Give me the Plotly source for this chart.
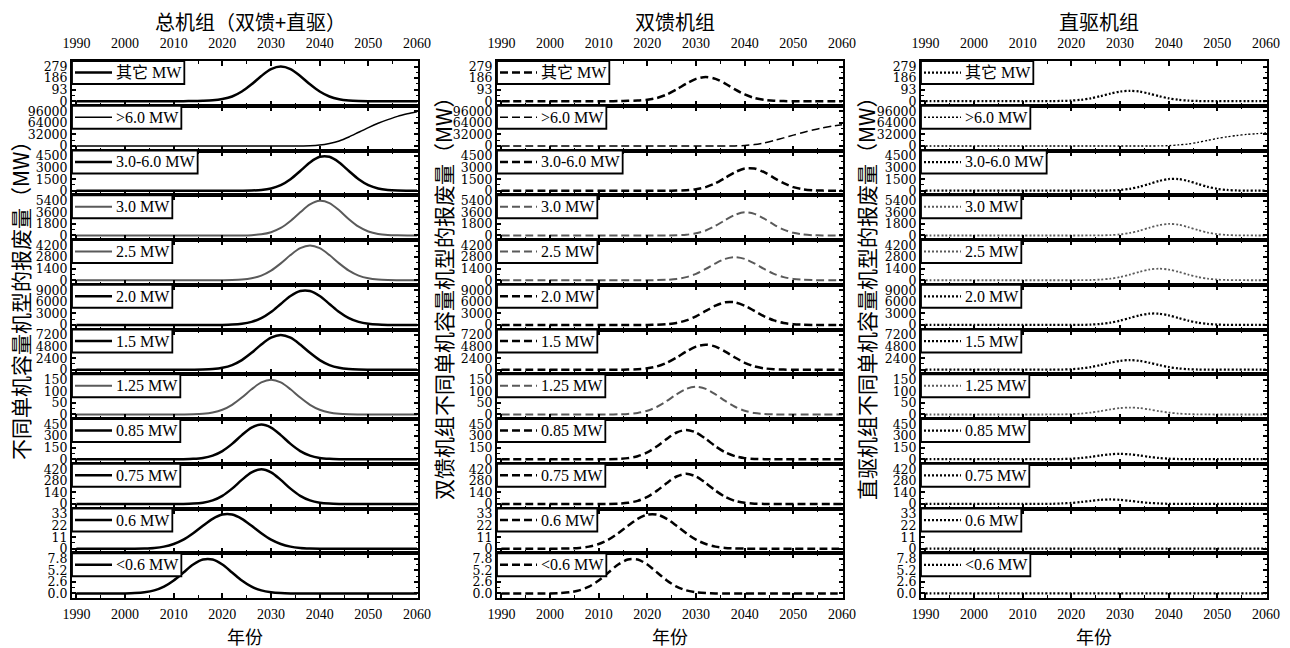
import plotly.graph_objects as go

# ---------------- data ----------------
YEARS = [1990, 1992, 1994, 1996, 1998, 2000, 2002, 2004, 2006, 2008, 2010, 2012,
         2014, 2016, 2018, 2020, 2022, 2024, 2026, 2028, 2030, 2032, 2034, 2036,
         2038, 2040, 2042, 2044, 2046, 2048, 2050, 2052, 2054, 2056, 2058, 2060]

ROW_LABELS = ["其它 MW", ">6.0 MW", "3.0-6.0 MW", "3.0 MW", "2.5 MW", "2.0 MW",
              "1.5 MW", "1.25 MW", "0.85 MW", "0.75 MW", "0.6 MW", "<0.6 MW"]

ROW_TICKVALS = [[0, 93, 186, 279], [0, 32000, 64000, 96000], [0, 1500, 3000, 4500],
                [0, 1800, 3600, 5400], [0, 1400, 2800, 4200], [0, 3000, 6000, 9000],
                [0, 2400, 4800, 7200], [0, 50, 100, 150], [0, 150, 300, 450],
                [0, 140, 280, 420], [0, 11, 22, 33], [0.0, 2.6, 5.2, 7.8]]
ROW_TICKTEXT = [["0", "93", "186", "279"], ["0", "32000", "64000", "96000"],
                ["0", "1500", "3000", "4500"], ["0", "1800", "3600", "5400"],
                ["0", "1400", "2800", "4200"], ["0", "3000", "6000", "9000"],
                ["0", "2400", "4800", "7200"], ["0", "50", "100", "150"],
                ["0", "150", "300", "450"], ["0", "140", "280", "420"],
                ["0", "11", "22", "33"], ["0.0", "2.6", "5.2", "7.8"]]

# --- 总机组 (total) ---
TOTAL_OTHER = [0, 0, 0, 0, 0, 0, 0, 0, 0, 0, 0, 0.5, 2, 4, 8, 18, 38, 78, 136, 203, 258, 279,
               258, 203, 136, 78, 38, 16, 6, 2, 0.5, 0, 0, 0, 0, 0]
TOTAL_GT6 = [0, 0, 0, 0, 0, 0, 0, 0, 0, 0, 0, 0, 0, 0, 0, 0, 0, 0, 0, 0, 0, 0, 0, 0,
             500, 2500, 7000, 14000, 25000, 38000, 51000, 63000, 73000, 82000, 89000, 95000]
TOTAL_3TO6 = [0, 0, 0, 0, 0, 0, 0, 0, 0, 0, 0, 0, 0, 0, 0, 0, 0,
              6, 27, 98, 291, 720, 1485, 2556, 3672, 4401, 4401, 3672, 2556, 1485, 720, 291, 98, 27, 6, 1]
TOTAL_3P0 = [0, 0, 0, 0, 0, 0, 0, 0, 0, 0, 0, 0, 0, 0, 0, 0,
             4, 14, 56, 185, 510, 1170, 2250, 3600, 4830, 5400, 5050, 3920, 2540, 1370, 620, 232, 72, 19, 5, 1]
TOTAL_2P5 = [0, 0, 0, 0, 0, 0, 0, 0, 0, 0, 0, 0, 0, 0,
             1, 6, 25, 83, 236, 567, 1168, 2045, 3049, 3877, 4200, 3877, 3049, 2045, 1168, 567, 236, 83, 25, 6, 1, 0]
TOTAL_2P0 = [0, 0, 0, 0, 0, 0, 0, 0, 0, 0, 0, 0, 0, 0,
             6, 28, 100, 306, 800, 1782, 3375, 5463, 7515, 8820, 8820, 7515, 5463, 3375, 1782, 800, 306, 100, 28, 6, 1, 0]
TOTAL_1P5 = [0, 0, 0, 0, 0, 0, 0, 0, 0, 0, 0,
             2, 11, 43, 143, 404, 972, 2002, 3506, 5227, 6646, 7200, 6646, 5227, 3506, 2002, 972, 404, 143, 43, 11, 2,
             0, 0, 0, 0]
TOTAL_1P25 = [0, 0, 0, 0, 0, 0, 0, 0, 0, 0, 0,
              0.2, 0.9, 3.0, 8.4, 20.3, 41.7, 73.1, 108.9, 138.5, 150, 138.5, 108.9, 73.1, 41.7, 20.3, 8.4, 3.0, 0.9, 0.2,
              0, 0, 0, 0, 0, 0]
TOTAL_0P85 = [0, 0, 0, 0, 0, 0, 0, 0, 0, 0,
              0.3, 1.4, 5.3, 17, 47, 106, 199, 313, 411, 450, 411, 313, 199, 106, 47, 17, 5.3, 1.4, 0.3,
              0, 0, 0, 0, 0, 0, 0]
TOTAL_0P75 = [0, 0, 0, 0, 0, 0, 0, 0, 0, 0,
              0.3, 1.3, 5, 16, 44, 99, 186, 292, 383, 420, 383, 292, 186, 99, 44, 16, 5, 1.3, 0.3,
              0, 0, 0, 0, 0, 0, 0]
TOTAL_0P6 = [0, 0, 0, 0, 0, 0,
             0.1, 0.3, 0.8, 2.0, 4.5, 8.6, 14.7, 21.8, 28.4, 32.5, 32.5, 28.4, 21.8, 14.7, 8.6, 4.5, 2.0, 0.8, 0.3, 0.1,
             0, 0, 0, 0, 0, 0, 0, 0, 0, 0]
TOTAL_LT0P6 = [0, 0, 0, 0, 0,
               0.02, 0.09, 0.27, 0.69, 1.54, 2.93, 4.73, 6.51, 7.64, 7.64, 6.51, 4.73, 2.93, 1.54, 0.69, 0.27, 0.09, 0.02,
               0, 0, 0, 0, 0, 0, 0, 0, 0, 0, 0, 0, 0]

# --- 双馈机组 (DFIG) ---
DFIG_OTHER = [0, 0, 0, 0, 0, 0, 0, 0, 0, 0, 0, 0.3, 1.4, 3, 5.6, 12.6, 26.5, 54.5, 95, 142, 180, 195,
              180, 142, 95, 54.5, 26.5, 11, 4, 1.4, 0.3, 0, 0, 0, 0, 0]
DFIG_GT6 = [0, 0, 0, 0, 0, 0, 0, 0, 0, 0, 0, 0, 0, 0, 0, 0, 0, 0, 0, 0, 0, 0, 0, 0,
            300, 1500, 4000, 8500, 15000, 22500, 30000, 37500, 44000, 50000, 55000, 59000]
DFIG_3TO6 = [0, 0, 0, 0, 0, 0, 0, 0, 0, 0, 0, 0, 0, 0, 0, 0, 0,
             4, 18, 64, 191, 472, 974, 1676, 2407, 2885, 2885, 2407, 1676, 974, 472, 191, 64, 18, 4, 1]
DFIG_3P0 = [0, 0, 0, 0, 0, 0, 0, 0, 0, 0, 0, 0, 0, 0, 0, 0,
            3, 9, 37, 123, 340, 780, 1500, 2400, 3220, 3600, 3367, 2613, 1693, 913, 413, 155, 48, 13, 3, 1]
DFIG_2P5 = [0, 0, 0, 0, 0, 0, 0, 0, 0, 0, 0, 0, 0, 0,
            1, 4, 17, 55, 157, 378, 779, 1363, 2033, 2585, 2800, 2585, 2033, 1363, 779, 378, 157, 55, 17, 4, 1, 0]
DFIG_2P0 = [0, 0, 0, 0, 0, 0, 0, 0, 0, 0, 0, 0, 0, 0,
            4, 19, 67, 204, 533, 1188, 2250, 3642, 5010, 5880, 5880, 5010, 3642, 2250, 1188, 533, 204, 67, 19, 4, 1, 0]
DFIG_1P5 = [0, 0, 0, 0, 0, 0, 0, 0, 0, 0, 0,
            1, 8, 31, 103, 292, 702, 1446, 2532, 3775, 4800, 5200, 4800, 3775, 2532, 1446, 702, 292, 103, 31, 8, 1,
            0, 0, 0, 0]
DFIG_1P25 = [0, 0, 0, 0, 0, 0, 0, 0, 0, 0, 0,
             0.2, 0.7, 2.4, 6.7, 16.2, 33.4, 58.5, 87.1, 110.8, 120, 110.8, 87.1, 58.5, 33.4, 16.2, 6.7, 2.4, 0.7, 0.2,
             0, 0, 0, 0, 0, 0]
DFIG_0P85 = [0, 0, 0, 0, 0, 0, 0, 0, 0, 0,
             0.3, 1.2, 4.5, 14.4, 39.7, 89.5, 168, 264, 347, 380, 347, 264, 168, 89.5, 39.7, 14.4, 4.5, 1.2, 0.3,
             0, 0, 0, 0, 0, 0, 0]
DFIG_0P75 = [0, 0, 0, 0, 0, 0, 0, 0, 0, 0,
             0.3, 1.1, 4.3, 14, 38, 86, 162, 254, 333, 365, 333, 254, 162, 86, 38, 14, 4.3, 1.1, 0.3,
             0, 0, 0, 0, 0, 0, 0]
DFIG_0P6 = [0, 0, 0, 0, 0, 0,
            0.1, 0.3, 0.8, 2.0, 4.5, 8.6, 14.7, 21.8, 28.4, 32.5, 32.5, 28.4, 21.8, 14.7, 8.6, 4.5, 2.0, 0.8, 0.3, 0.1,
            0, 0, 0, 0, 0, 0, 0, 0, 0, 0]
DFIG_LT0P6 = [0, 0, 0, 0, 0,
              0.02, 0.09, 0.27, 0.69, 1.54, 2.93, 4.73, 6.51, 7.64, 7.64, 6.51, 4.73, 2.93, 1.54, 0.69, 0.27, 0.09, 0.02,
              0, 0, 0, 0, 0, 0, 0, 0, 0, 0, 0, 0, 0]

# --- 直驱机组 (PMSG) ---
PMSG_OTHER = [0, 0, 0, 0, 0, 0, 0, 0, 0, 0, 0, 0.2, 0.6, 1, 2.4, 5.4, 11.5, 23.5, 41, 61, 78, 84,
              78, 61, 41, 23.5, 11.5, 5, 2, 0.6, 0.2, 0, 0, 0, 0, 0]
PMSG_GT6 = [0, 0, 0, 0, 0, 0, 0, 0, 0, 0, 0, 0, 0, 0, 0, 0, 0, 0, 0, 0, 0, 0, 0, 0,
            200, 1000, 3000, 5500, 10000, 15500, 21000, 25500, 29000, 32000, 34000, 36000]
PMSG_3TO6 = [0, 0, 0, 0, 0, 0, 0, 0, 0, 0, 0, 0, 0, 0, 0, 0, 0,
             2, 9, 34, 100, 248, 512, 880, 1265, 1516, 1516, 1265, 880, 512, 248, 100, 34, 9, 2, 0]
PMSG_3P0 = [0, 0, 0, 0, 0, 0, 0, 0, 0, 0, 0, 0, 0, 0, 0, 0,
            1, 5, 19, 62, 170, 390, 750, 1200, 1610, 1800, 1683, 1307, 847, 457, 207, 77, 24, 6, 2, 0]
PMSG_2P5 = [0, 0, 0, 0, 0, 0, 0, 0, 0, 0, 0, 0, 0, 0,
            0, 2, 8, 28, 79, 189, 389, 682, 1016, 1292, 1400, 1292, 1016, 682, 389, 189, 79, 28, 8, 2, 0, 0]
PMSG_2P0 = [0, 0, 0, 0, 0, 0, 0, 0, 0, 0, 0, 0, 0, 0,
            2, 9, 33, 102, 267, 594, 1125, 1821, 2505, 2940, 2940, 2505, 1821, 1125, 594, 267, 102, 33, 9, 2, 0, 0]
PMSG_1P5 = [0, 0, 0, 0, 0, 0, 0, 0, 0, 0, 0,
            1, 3, 12, 40, 112, 270, 556, 974, 1452, 1846, 2000, 1846, 1452, 974, 556, 270, 112, 40, 12, 3, 1,
            0, 0, 0, 0]
PMSG_1P25 = [0, 0, 0, 0, 0, 0, 0, 0, 0, 0, 0,
             0, 0, 0.2, 0.6, 1.7, 4.1, 8.3, 14.6, 21.8, 27.7, 30, 27.7, 21.8, 14.6, 8.3, 4.1, 1.7, 0.6, 0.2,
             0, 0, 0, 0, 0, 0]
PMSG_0P85 = [0, 0, 0, 0, 0, 0, 0, 0, 0, 0,
             0, 0, 0.2, 0.8, 2.6, 7.3, 16.5, 31, 49, 64, 70, 64, 49, 31, 16.5, 7.3, 2.6, 0.8, 0.2,
             0, 0, 0, 0, 0, 0, 0]
PMSG_0P75 = [0, 0, 0, 0, 0, 0, 0, 0, 0, 0,
             0, 0.2, 0.7, 2, 6, 13, 24, 38, 50, 55, 50, 38, 24, 13, 6, 2, 0.7, 0.2, 0,
             0, 0, 0, 0, 0, 0, 0]
PMSG_0P6 = [0, 0, 0, 0, 0, 0, 0, 0, 0, 0, 0, 0, 0, 0, 0, 0, 0, 0,
            0, 0, 0, 0, 0, 0, 0, 0, 0, 0, 0, 0, 0, 0, 0, 0, 0, 0]
PMSG_LT0P6 = [0, 0, 0, 0, 0, 0, 0, 0, 0, 0, 0, 0, 0, 0, 0, 0, 0, 0,
              0, 0, 0, 0, 0, 0, 0, 0, 0, 0, 0, 0, 0, 0, 0, 0, 0, 0]

COLUMNS = [
    [TOTAL_OTHER, TOTAL_GT6, TOTAL_3TO6, TOTAL_3P0, TOTAL_2P5, TOTAL_2P0,
     TOTAL_1P5, TOTAL_1P25, TOTAL_0P85, TOTAL_0P75, TOTAL_0P6, TOTAL_LT0P6],
    [DFIG_OTHER, DFIG_GT6, DFIG_3TO6, DFIG_3P0, DFIG_2P5, DFIG_2P0,
     DFIG_1P5, DFIG_1P25, DFIG_0P85, DFIG_0P75, DFIG_0P6, DFIG_LT0P6],
    [PMSG_OTHER, PMSG_GT6, PMSG_3TO6, PMSG_3P0, PMSG_2P5, PMSG_2P0,
     PMSG_1P5, PMSG_1P25, PMSG_0P85, PMSG_0P75, PMSG_0P6, PMSG_LT0P6],
]
COL_TITLES = ["总机组（双馈+直驱）", "双馈机组", "直驱机组"]
Y_TITLES = ["不同单机容量机型的报废量（MW）",
            "双馈机组不同单机容量机型的报废量（MW）",
            "直驱机组不同单机容量机型的报废量（MW）"]
X_TITLE = "年份"

# ---------------- styling / geometry ----------------
OFF = 0                      # body margin is removed by the post script below
W, H = 1290, 648
COL_LEFT = [72, 497, 921]    # target pixel positions on the page
COL_W = 346
TOP, BOTTOM = 61, 598
ROW_H = (BOTTOM - TOP) / 12
GRAY_ROWS = {3, 4, 7}
THIN_ROWS = {1}
COL_DASH = ["solid", "8px,4px", "2px,2px"]
SERIF = "Liberation Serif, Noto Sans CJK SC, serif"
CJK = "Noto Sans CJK SC, Liberation Serif, sans-serif"
KEY_FONT = 16
KEY_TEXT_X = 43
KEY_H = 23


def px_x(p):
    return (p - OFF) / W


def px_y(p):
    return 1 - (p - OFF) / H


def text_width(s, size):
    em = {"0": .5, "1": .5, "2": .5, "3": .5, "4": .5, "5": .5, "6": .5, "7": .5,
          "8": .5, "9": .5, ".": .25, "-": .333, " ": .25, "M": .889, "W": .944,
          ">": .564, "<": .564}
    return sum(em.get(ch, 1.0) for ch in s) * size


def esc(s):
    return s.replace("<", "&lt;").replace(">", "&gt;")


fig = go.Figure()
layout = {}
shapes = []
annotations = []
for c in range(3):
    for r in range(12):
        n = c * 12 + r + 1
        sfx = "" if n == 1 else str(n)
        top = TOP + r * ROW_H
        bot = top + ROW_H
        tv = ROW_TICKVALS[r]
        M = tv[-1]
        side = "top" if r == 0 else "bottom"
        layout["xaxis" + sfx] = dict(
            domain=[px_x(COL_LEFT[c]), px_x(COL_LEFT[c] + COL_W)], anchor="y" + sfx,
            range=[1989.1, 2060.2],
            side=side, showticklabels=(r == 0 or r == 11),
            tickmode="linear", tick0=1990, dtick=10,
            ticks="inside", ticklen=5, tickwidth=1.5, tickcolor="black",
            minor=dict(dtick=5, tick0=1990, ticks="inside", ticklen=3, tickwidth=1.2, tickcolor="black"),
            showline=True, linewidth=2, linecolor="black", mirror="allticks",
            showgrid=False, zeroline=False, automargin=False,
            tickfont=dict(family=SERIF, size=14, color="black"),
            ticklabelstandoff=(5 if r == 0 else 2),
        )
        layout["yaxis" + sfx] = dict(
            domain=[px_y(bot), px_y(top)], anchor="x" + sfx, range=[-0.13 * M, 1.16 * M],
            tickmode="array", tickvals=tv, ticktext=ROW_TICKTEXT[r],
            ticks="inside", ticklen=4, tickwidth=1.5, tickcolor="black",
            minor=dict(tickmode="linear", tick0=0, dtick=M / 6, ticks="inside", ticklen=2.5,
                       tickwidth=1.2, tickcolor="black"),
            showline=True, linewidth=2, linecolor="black", mirror="allticks",
            showgrid=False, zeroline=False, automargin=False,
            tickfont=dict(family="DejaVu Serif", size=12.5, color="black"),
            ticklabelstandoff=0,
        )
        color = "#5a5a5a" if r in GRAY_ROWS else "black"
        width = 1.5 if r in THIN_ROWS else (2.0 if r in GRAY_ROWS else 2.5)
        if c == 2:
            width = width * 0.9
        line = dict(color=color, width=width, dash=COL_DASH[c])
        fig.add_trace(go.Scatter(
            x=YEARS, y=COLUMNS[c][r], mode="lines", name=ROW_LABELS[r],
            xaxis="x" + sfx, yaxis="y" + sfx, showlegend=False,
            line=dict(shape="spline", smoothing=0.8, **line),
            hoverinfo="skip",
        ))
        # key box (framed label with a line sample) in the top-left corner
        boxw = KEY_TEXT_X + text_width(ROW_LABELS[r], KEY_FONT) + 4
        xd, yd = "x%s domain" % sfx, "y%s domain" % sfx
        shapes.append(dict(
            type="rect", xref=xd, yref=yd, x0=0, x1=boxw / COL_W, y0=1 - KEY_H / ROW_H, y1=1,
            line=dict(color="black", width=1.8), fillcolor="white", layer="above"))
        shapes.append(dict(
            type="line", xref=xd, yref=yd,
            x0=3 / COL_W, x1=40 / COL_W, y0=1 - 11.5 / ROW_H, y1=1 - 11.5 / ROW_H,
            line=line, layer="above"))
        annotations.append(dict(
            xref=xd, yref=yd, x=KEY_TEXT_X / COL_W, y=1 - 11.5 / ROW_H,
            xanchor="left", yanchor="middle", showarrow=False,
            text=esc(ROW_LABELS[r]), borderpad=0,
            font=dict(family=SERIF, size=KEY_FONT, color="black")))

title_x = [250, 675, 1099]
for c in range(3):
    annotations.append(dict(
        x=px_x(title_x[c]), y=px_y(21), xref="paper", yref="paper", text=COL_TITLES[c],
        showarrow=False, xanchor="center", yanchor="middle",
        font=dict(family=CJK, size=20, color="black")))
    annotations.append(dict(
        x=px_x(COL_LEFT[c] + COL_W / 2), y=px_y(636), xref="paper", yref="paper", text=X_TITLE,
        showarrow=False, xanchor="center", yanchor="middle",
        font=dict(family=CJK, size=18, color="black")))
ytx = [20, 443, 866]
yty = [295, 293, 293]
for c in range(3):
    annotations.append(dict(
        x=px_x(ytx[c]), y=px_y(yty[c]), xref="paper", yref="paper", text=Y_TITLES[c],
        showarrow=False, xanchor="center", yanchor="middle", textangle=-90,
        font=dict(family=CJK, size=21, color="black")))

fig.update_layout(**layout)
fig.update_layout(
    width=W, height=H, margin=dict(l=0, r=0, t=0, b=0, autoexpand=False),
    paper_bgcolor="white", plot_bgcolor="white", showlegend=False,
    annotations=annotations, shapes=shapes, hovermode=False,
)
fig.write_html("out.html", config={"displayModeBar": False},
               post_script="document.body.style.margin='0';document.body.style.overflow='hidden';")
